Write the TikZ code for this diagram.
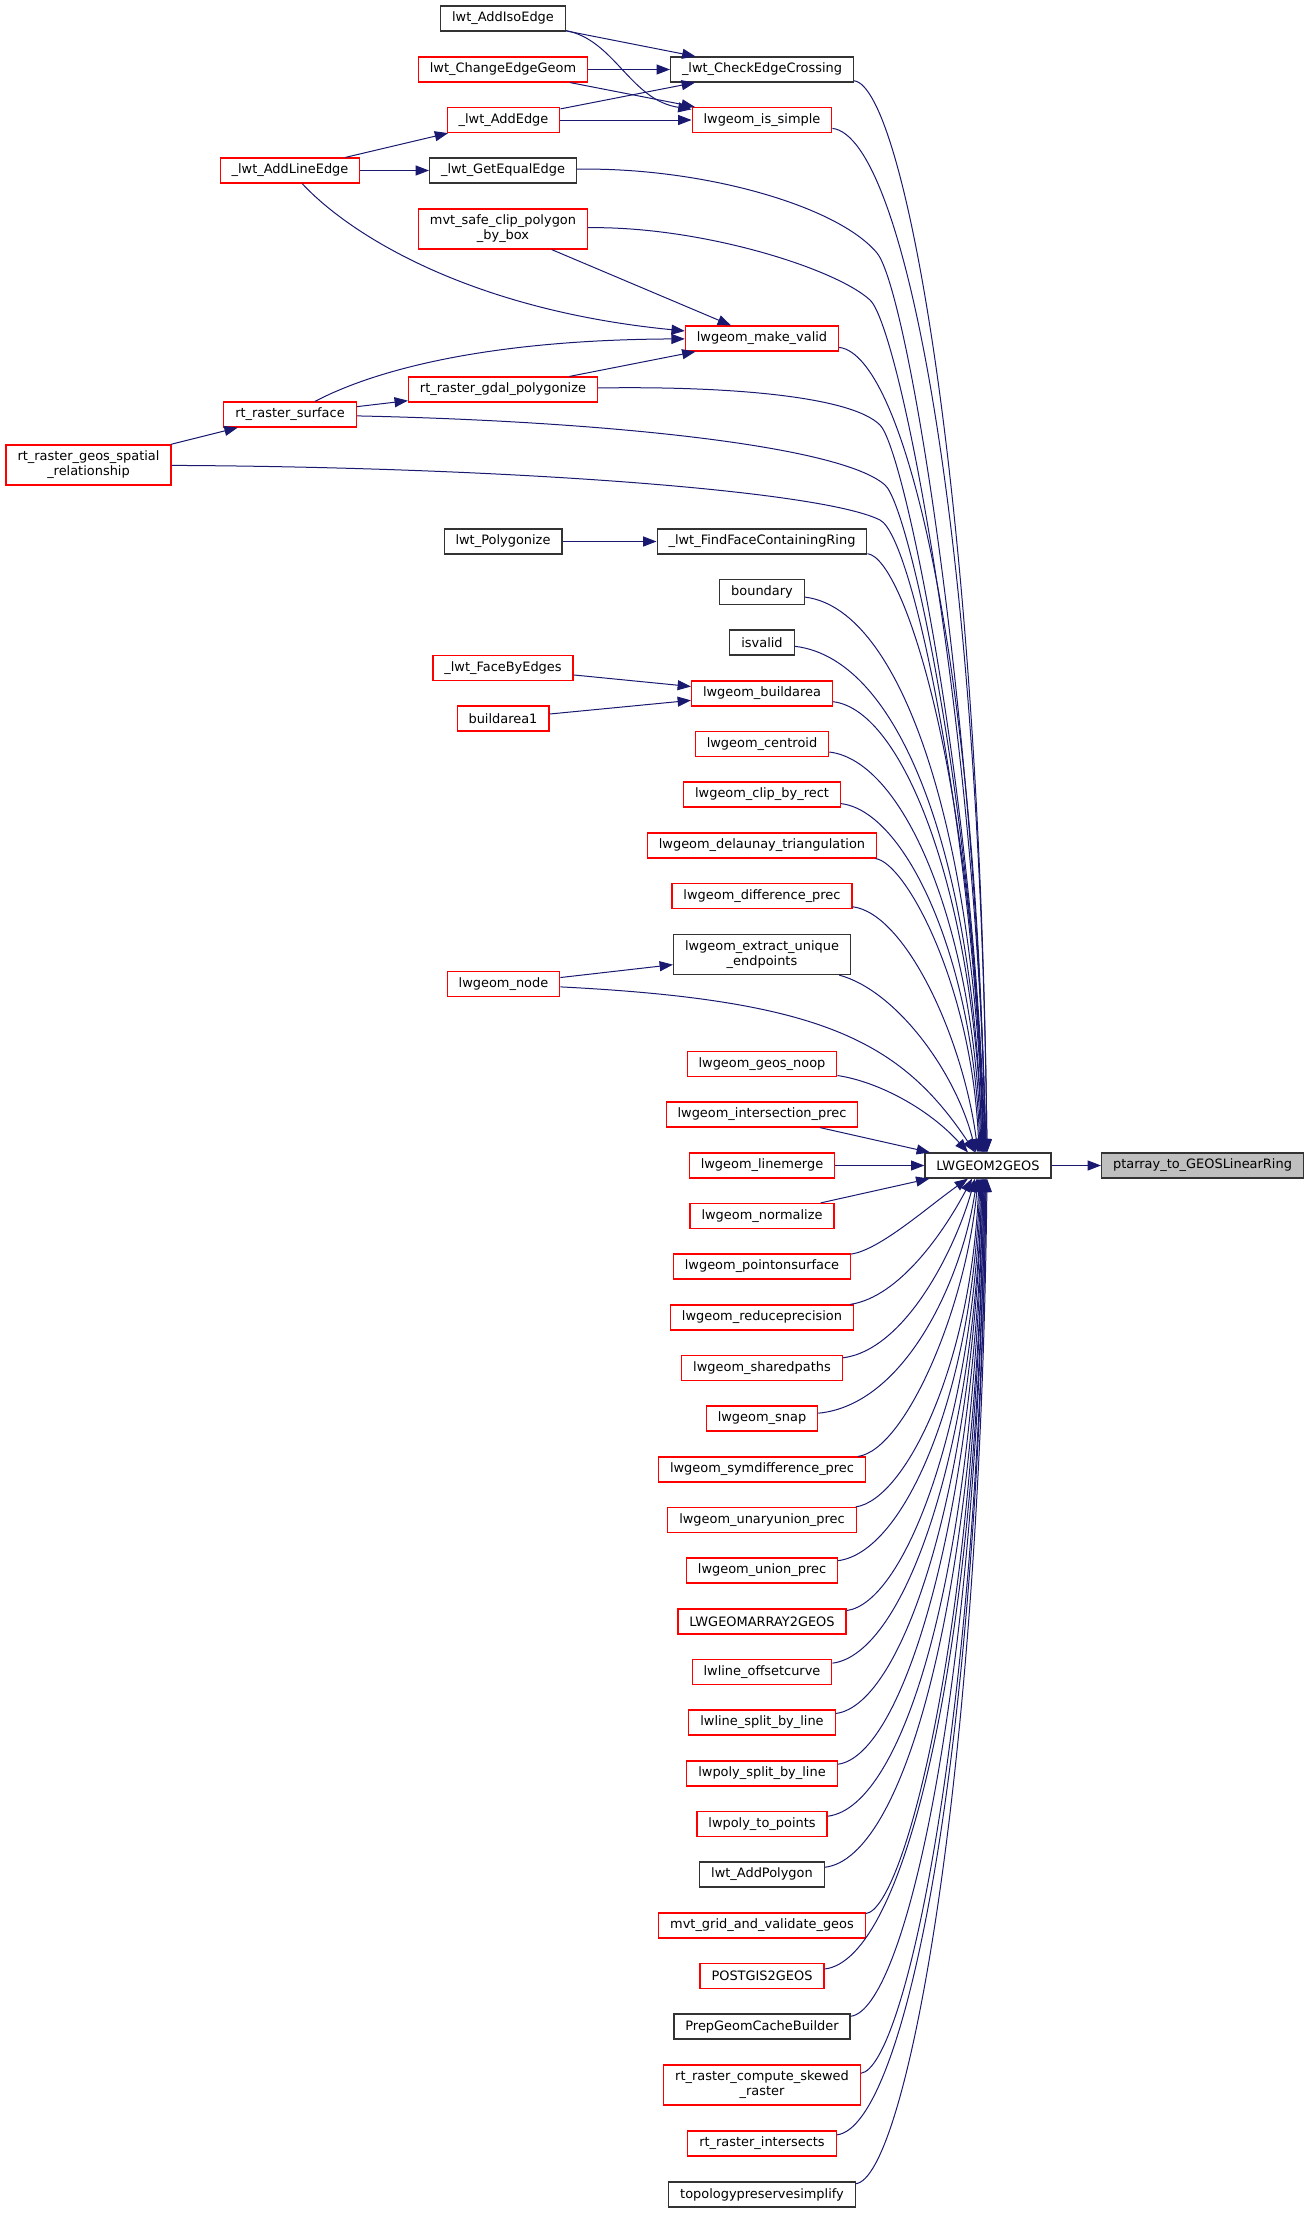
\documentclass[tikz,border=0pt]{standalone}
\usepackage{fontspec}
\setmainfont{DejaVu Sans}
\usetikzlibrary{arrows.meta,calc}
\definecolor{edgeblue}{HTML}{191970}
\definecolor{boxgrey}{HTML}{BFBFBF}
\begin{document}
\begin{tikzpicture}[x=0.75pt, y=0.75pt,
	fn/.style={draw=black!80, fill=white, line width=0.9pt, font=\fontsize{9.7}{11.25}\selectfont, inner xsep=8.6pt, inner ysep=2pt, minimum height=18.75pt, align=center},
	trunc/.style={fn, draw=red},
	this/.style={fn, fill=boxgrey},
	two/.style={minimum height=30pt},
	calls/.style={->, draw=edgeblue, line width=0.75pt},
	>={Triangle[length=10pt, width=7.5pt]}]
	\useasboundingbox (0,0) rectangle (1305,-2213);

	\node[fn] (iso) at (503,-18.5) {lwt\_AddIsoEdge};
	\node[trunc] (chg) at (503,-69.5) {lwt\_ChangeEdgeGeom};
	\node[fn] (cross) at (762,-69.5) {\_lwt\_CheckEdgeCrossing};
	\node[trunc] (addedge) at (503.5,-120) {\_lwt\_AddEdge};
	\node[trunc] (simple) at (762,-120) {lwgeom\_is\_simple};
	\node[trunc] (addline) at (290,-170.5) {\_lwt\_AddLineEdge};
	\node[fn] (equal) at (503,-170.5) {\_lwt\_GetEqualEdge};
	\node[trunc, two] (mvtclip) at (503,-229) {mvt\_safe\_clip\_polygon\\\_by\_box};
	\node[trunc] (valid) at (762,-338.5) {lwgeom\_make\_valid};
	\node[trunc] (gdal) at (503,-389.5) {rt\_raster\_gdal\_polygonize};
	\node[trunc] (surface) at (290,-414.5) {rt\_raster\_surface};
	\node[trunc, two] (spatial) at (88.5,-465) {rt\_raster\_geos\_spatial\\\_relationship};
	\node[fn] (polyg) at (503,-541.5) {lwt\_Polygonize};
	\node[fn] (findface) at (762,-541.5) {\_lwt\_FindFaceContainingRing};
	\node[fn] (boundary) at (762,-592) {boundary};
	\node[fn] (isvalid) at (762,-642.5) {isvalid};
	\node[trunc] (facebyedges) at (503,-668) {\_lwt\_FaceByEdges};
	\node[trunc] (buildarea) at (762,-693.5) {lwgeom\_buildarea};
	\node[trunc] (buildarea1) at (503,-718.5) {buildarea1};
	\node[trunc] (centroid) at (762,-744) {lwgeom\_centroid};
	\node[trunc] (cliprect) at (762,-794.5) {lwgeom\_clip\_by\_rect};
	\node[trunc] (delaunay) at (762,-845.5) {lwgeom\_delaunay\_triangulation};
	\node[trunc] (diff) at (762,-896) {lwgeom\_difference\_prec};
	\node[fn, two] (endpoints) at (762,-954.5) {lwgeom\_extract\_unique\\\_endpoints};
	\node[trunc] (lwnode) at (503.5,-984) {lwgeom\_node};
	\node[trunc] (noop) at (762,-1064) {lwgeom\_geos\_noop};
	\node[trunc] (inter) at (762,-1114.5) {lwgeom\_intersection\_prec};
	\node[trunc] (linemerge) at (762,-1165.5) {lwgeom\_linemerge};
	\node[fn] (hub) at (988,-1165.5) {LWGEOM2GEOS};
	\node[this] (ring) at (1202.5,-1165.5) {ptarray\_to\_GEOSLinearRing};
	\node[trunc] (normalize) at (762,-1216) {lwgeom\_normalize};
	\node[trunc] (pointsurf) at (762,-1266.5) {lwgeom\_pointonsurface};
	\node[trunc] (reduceprec) at (762,-1317.5) {lwgeom\_reduceprecision};
	\node[trunc] (sharedpaths) at (762,-1368) {lwgeom\_sharedpaths};
	\node[trunc] (snap) at (762,-1418.5) {lwgeom\_snap};
	\node[trunc] (symdiff) at (762,-1469.5) {lwgeom\_symdifference\_prec};
	\node[trunc] (unary) at (762,-1520) {lwgeom\_unaryunion\_prec};
	\node[trunc] (union) at (762,-1570.5) {lwgeom\_union\_prec};
	\node[trunc] (lwgeomarray) at (762,-1621.5) {LWGEOMARRAY2GEOS};
	\node[trunc] (offsetcurve) at (762,-1672) {lwline\_offsetcurve};
	\node[trunc] (linesplit) at (762,-1722.5) {lwline\_split\_by\_line};
	\node[trunc] (polysplit) at (762,-1773.5) {lwpoly\_split\_by\_line};
	\node[trunc] (topoints) at (762,-1824) {lwpoly\_to\_points};
	\node[fn] (addpolygon) at (762,-1874.5) {lwt\_AddPolygon};
	\node[trunc] (mvtgrid) at (762,-1925.5) {mvt\_grid\_and\_validate\_geos};
	\node[trunc] (postgis) at (762,-1976) {POSTGIS2GEOS};
	\node[fn] (prepgeom) at (762,-2026.5) {PrepGeomCacheBuilder};
	\node[trunc, two] (skewed) at (762,-2085) {rt\_raster\_compute\_skewed\\\_raster};
	\node[trunc] (intersects) at (762,-2143.5) {rt\_raster\_intersects};
	\node[fn] (topology) at (762,-2194.5) {topologypreservesimplify};

	\draw[calls] (iso) -- (cross);
	\draw[calls] (iso) .. controls (615,-40) and (630,-100) .. (simple);
	\draw[calls] (chg) -- (cross);
	\draw[calls] (chg) -- (simple);
	\draw[calls] (addedge) -- (cross);
	\draw[calls] (addedge) -- (simple);
	\draw[calls] (addline) -- (addedge);
	\draw[calls] (addline) -- (equal);
	\draw[calls] (addline) .. controls (350,-235) and (470,-310) .. (valid);
	\draw[calls] (mvtclip) -- (valid);
	\draw[calls] (surface) .. controls (350,-383) and (450,-340) .. (valid);
	\draw[calls] (surface) -- (gdal);
	\draw[calls] (gdal) -- (valid);
	\draw[calls] (spatial) -- (surface);
	\draw[calls] (polyg) -- (findface);
	\draw[calls] (facebyedges) -- (buildarea);
	\draw[calls] (buildarea1) -- (buildarea);
	\draw[calls] (lwnode) -- (endpoints);
	\draw[calls] (hub) -- (ring);

	\draw[calls] (cross) .. controls (905,-87) and (980,-503) .. ($(hub.north)+(-1,0)$);
	\draw[calls] (simple) .. controls (905,-137) and (980,-533) .. ($(hub.north)+(-1,0)$);
	\draw[calls] (equal) .. controls (700,-167) and (837,-205) .. (877,-253) .. controls (907,-289) and (975,-700) .. ($(hub.north)+(-2,0)$);
	\draw[calls] (mvtclip) .. controls (700,-226) and (835,-268) .. (870,-300) .. controls (900,-328) and (976,-720) .. ($(hub.north)+(-2,0)$);
	\draw[calls] (valid) .. controls (905,-355) and (978,-665) .. ($(hub.north)+(-3,0)$);
	\draw[calls] (gdal) .. controls (720,-386) and (850,-395) .. (880,-425) .. controls (905,-450) and (975,-800) .. ($(hub.north)+(-3,0)$);
	\draw[calls] (surface) .. controls (600,-421) and (840,-445) .. (885,-485) .. controls (910,-507) and (976,-820) .. ($(hub.north)+(-4,0)$);
	\draw[calls] (spatial) .. controls (500,-467) and (820,-490) .. (880,-520) .. controls (915,-538) and (975,-850) .. ($(hub.north)+(-4,0)$);
	\draw[calls] (findface) .. controls (905,-558) and (976,-786) .. ($(hub.north)+(-5,0)$);
	\draw[calls] (boundary) .. controls (905,-609) and (976,-844) .. ($(hub.north)+(-5,0)$);
	\draw[calls] (isvalid) .. controls (905,-659) and (975,-872) .. ($(hub.north)+(-6,0)$);
	\draw[calls] (buildarea) .. controls (905,-710) and (975,-900) .. ($(hub.north)+(-6,0)$);
	\draw[calls] (centroid) .. controls (905,-761) and (974,-928) .. ($(hub.north)+(-7,0)$);
	\draw[calls] (cliprect) .. controls (905,-811) and (973,-956) .. ($(hub.north)+(-8,0)$);
	\draw[calls] (delaunay) .. controls (905,-862) and (972,-984) .. ($(hub.north)+(-9,0)$);
	\draw[calls] (diff) .. controls (905,-913) and (963,-1037) .. ($(hub.north)+(-10,0)$);
	\draw[calls] (endpoints) .. controls (895,-990) and (955,-1070) .. ($(hub.north)+(-12,0)$);
	\draw[calls] (lwnode) .. controls (820,-1000) and (900,-1040) .. ($(hub.north)+(-13,0)$);
	\draw[calls] (noop) .. controls (880,-1082) and (930,-1110) .. ($(hub.north)+(-20,0)$);
	\draw[calls] (inter) -- (hub);
	\draw[calls] (linemerge) -- (hub);
	\draw[calls] (normalize) -- (hub);
	\draw[calls] (pointsurf) .. controls (880,-1250) and (930,-1205) .. ($(hub.south)+(-20,0)$);
	\draw[calls] (reduceprec) .. controls (900,-1297) and (945,-1230) .. ($(hub.south)+(-16,0)$);
	\draw[calls] (sharedpaths) .. controls (905,-1350) and (955,-1250) .. ($(hub.south)+(-13,0)$);
	\draw[calls] (snap) .. controls (905,-1405) and (962,-1280) .. ($(hub.south)+(-11,0)$);
	\draw[calls] (symdiff) .. controls (905,-1450) and (966,-1309) .. ($(hub.south)+(-10,0)$);
	\draw[calls] (unary) .. controls (905,-1500) and (971,-1366) .. ($(hub.south)+(-9,0)$);
	\draw[calls] (union) .. controls (905,-1552) and (972,-1394) .. ($(hub.south)+(-8,0)$);
	\draw[calls] (lwgeomarray) .. controls (905,-1603) and (973,-1422) .. ($(hub.south)+(-7,0)$);
	\draw[calls] (offsetcurve) .. controls (905,-1654) and (974,-1450) .. ($(hub.south)+(-6,0)$);
	\draw[calls] (linesplit) .. controls (905,-1705) and (975,-1477) .. ($(hub.south)+(-6,0)$);
	\draw[calls] (polysplit) .. controls (905,-1756) and (976,-1506) .. ($(hub.south)+(-5,0)$);
	\draw[calls] (topoints) .. controls (905,-1807) and (976,-1566) .. ($(hub.south)+(-5,0)$);
	\draw[calls] (addpolygon) .. controls (905,-1858) and (977,-1596) .. ($(hub.south)+(-4,0)$);
	\draw[calls] (mvtgrid) .. controls (905,-1909) and (977,-1627) .. ($(hub.south)+(-4,0)$);
	\draw[calls] (postgis) .. controls (905,-1960) and (978,-1657) .. ($(hub.south)+(-3,0)$);
	\draw[calls] (prepgeom) .. controls (905,-2010) and (978,-1687) .. ($(hub.south)+(-3,0)$);
	\draw[calls] (skewed) .. controls (905,-2068) and (979,-1722) .. ($(hub.south)+(-2,0)$);
	\draw[calls] (intersects) .. controls (905,-2127) and (979,-1757) .. ($(hub.south)+(-2,0)$);
	\draw[calls] (topology) .. controls (905,-2178) and (980,-1788) .. ($(hub.south)+(-1,0)$);
\end{tikzpicture}
\end{document}
